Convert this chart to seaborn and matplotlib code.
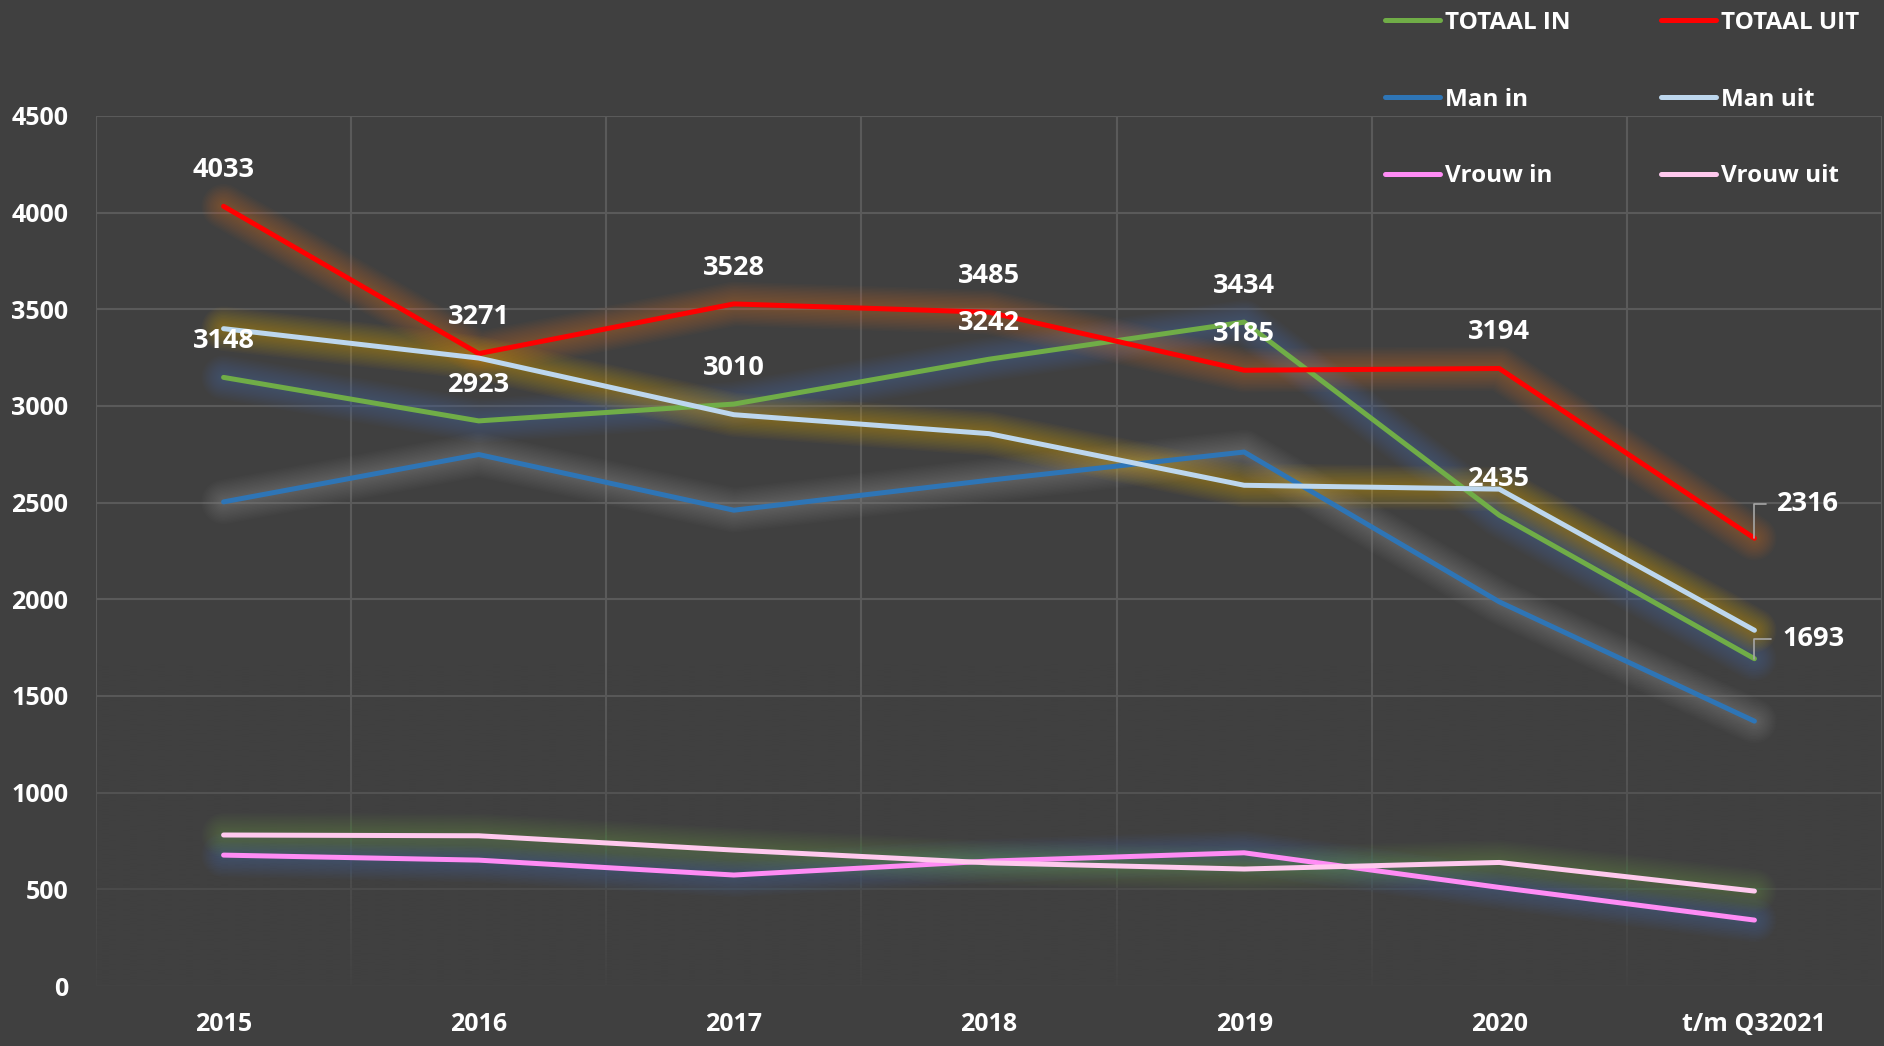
import numpy as np
import pandas as pd
import matplotlib
matplotlib.use('Agg')
import matplotlib.pyplot as plt
import matplotlib.colors as mcolors
import seaborn as sns

# ---- data ----
years = ['2015', '2016', '2017', '2018', '2019', '2020', 't/m Q32021']
totaal_in = [3148, 2923, 3010, 3242, 3434, 2435, 1693]
totaal_uit = [4033, 3271, 3528, 3485, 3185, 3194, 2316]
man_in = [2504, 2749, 2461, 2616, 2762, 1987, 1370]
man_uit = [3400, 3248, 2955, 2857, 2590, 2570, 1840]
vrouw_in = [677, 651, 574, 646, 689, 510, 341]
vrouw_uit = [781, 777, 703, 637, 605, 639, 491]

series_names = ['TOTAAL IN', 'TOTAAL UIT', 'Man in', 'Man uit', 'Vrouw in', 'Vrouw uit']
series_values = [totaal_in, totaal_uit, man_in, man_uit, vrouw_in, vrouw_uit]
line_colors = ['#70AD47', '#FF0000', '#2E75B6', '#BDD7EE', '#FF8CF5', '#FFC9EE']
glow_colors = ['#4472C4', '#ED7D31', '#A5A5A5', '#FFC000', '#4472C4', '#70AD47']
y_ticks = [0, 500, 1000, 1500, 2000, 2500, 3000, 3500, 4000, 4500]

BG = '#404040'
GRID = '#5A5A5A'
FONT = ['Open Sans', 'DejaVu Sans']

sns.set_theme(style='dark')
plt.rcParams['font.family'] = FONT

fig = plt.figure(figsize=(18.84, 10.46), dpi=100, facecolor=BG)
ax = fig.add_axes([96 / 1884, 1 - 986 / 1046, (1882 - 96) / 1884, 870 / 1046])
ax.set_facecolor(BG)

df = pd.DataFrame({'year': years})
for name, vals in zip(series_names, series_values):
    df[name] = vals

# soft glow: many thin-alpha layers
glow_widths = np.arange(32, 5, -2)
for name, gc in zip(series_names, glow_colors):
    for lw in glow_widths:
        sns.lineplot(data=df, x='year', y=name, ax=ax, color=gc, linewidth=float(lw),
                     alpha=0.028, legend=False, sort=False,
                     solid_capstyle='round', solid_joinstyle='round', zorder=2)

# main lines
handles = {}
for name, lc in zip(series_names, line_colors):
    sns.lineplot(data=df, x='year', y=name, ax=ax, color=lc, linewidth=3.6,
                 label=name, legend=False, sort=False,
                 solid_capstyle='round', solid_joinstyle='round', zorder=3)
    handles[name] = ax.lines[-1]

# axes styling
ax.set_xlim(-0.5, len(years) - 0.5)
ax.set_ylim(0, 4500)
ax.set_yticks(y_ticks)
ax.set_xticks(range(len(years)))
ax.set_xticklabels(years)
ax.set_xticks(np.arange(-0.5, len(years), 1), minor=True)
ax.set_xlabel('')
ax.set_ylabel('')
for s in ax.spines.values():
    s.set_visible(False)
ax.grid(False)
ax.grid(axis='y', which='major', color=GRID, linewidth=1.5, zorder=0)
ax.grid(axis='x', which='minor', color=GRID, linewidth=1.5, zorder=0)
ax.tick_params(axis='both', which='both', length=0)
ax.tick_params(axis='y', pad=20, labelsize=18, labelcolor='white')
ax.tick_params(axis='x', pad=19, labelsize=18, labelcolor='white')
for lbl in ax.get_xticklabels() + ax.get_yticklabels():
    lbl.set_fontweight('bold')
    lbl.set_family(FONT)
ax.set_axisbelow(True)

# gridline fade towards the bottom (background-coloured gradient over the grid)
bg_rgb = mcolors.to_rgb(BG)
ramp = np.linspace(0.0, 1.0, 256)  # top -> bottom
grad = np.zeros((256, 1, 4))
grad[:, 0, :3] = bg_rgb
grad[:, 0, 3] = np.clip(ramp, 0, 1) ** 1.3 * 0.92
ax.imshow(grad, extent=(-0.5, len(years) - 0.5, 0, 1700), aspect='auto',
          origin='upper', zorder=1, interpolation='bilinear')
ax.set_xlim(-0.5, len(years) - 0.5)
ax.set_ylim(0, 4500)

# data labels for totals
last = len(years) - 1
for vals in [totaal_uit, totaal_in]:
    for i, v in enumerate(vals):
        if i < last:
            ax.annotate(f'{v}', xy=(i, v), xytext=(0, 26), textcoords='offset points',
                        ha='center', va='center', color='white', fontsize=19.5,
                        fontweight='bold', zorder=5)

# last point labels with leader lines
for vals, off in [(totaal_uit, (16.5, 25)), (totaal_in, (20, 14.5))]:
    v = vals[last]
    ax.annotate(f'{v}', xy=(last, v), xytext=off, textcoords='offset points',
                ha='left', va='center', color='white', fontsize=19.5, fontweight='bold',
                annotation_clip=False, zorder=5,
                arrowprops=dict(arrowstyle='-', color='#A6A6A6', lw=1.2,
                                connectionstyle='angle,angleA=0,angleB=90,rad=0',
                                relpos=(0, 0.5), shrinkA=6, shrinkB=0))

# legend (row-wise order like the reference: column-major fill)
leg_order = ['TOTAAL IN', 'Man in', 'Vrouw in', 'TOTAAL UIT', 'Man uit', 'Vrouw uit']
leg = fig.legend(handles=[handles[n] for n in leg_order], labels=leg_order, ncol=2,
                 loc='upper left', bbox_to_anchor=(1385 / 1884, 1 - 11 / 1046),
                 frameon=False, fontsize=17.5, handlelength=2.25, handletextpad=0.2,
                 columnspacing=3.75, labelspacing=2.17, borderpad=0, borderaxespad=0)
for t in leg.get_texts():
    t.set_color('white')
    t.set_fontweight('bold')
for lh in leg.get_lines():
    lh.set_linewidth(3.6)

fig.savefig('out.png', dpi=100, facecolor=BG)
